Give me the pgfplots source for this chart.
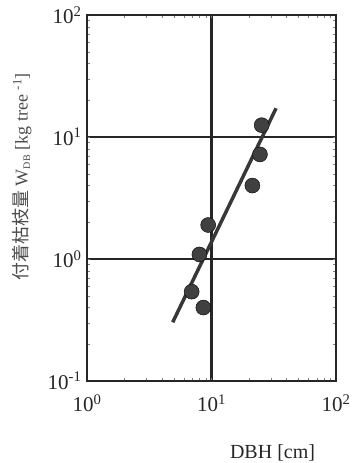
\documentclass[border=0pt]{standalone}
\usepackage{fontspec}
\setmainfont{Liberation Serif}
\newfontfamily\cjk{Noto Sans CJK JP}
\usepackage{pgfplots}
\pgfplotsset{compat=1.18}
\begin{document}
\begin{tikzpicture}
\begin{axis}[
  at={(0pt,0pt)}, anchor=south west,
  scale only axis, width=249pt, height=366pt,
  xmode=log, ymode=log,
  xmin=1, xmax=100, ymin=0.1, ymax=100,
  xtick={1,10,100}, ytick={0.1,1,10,100},
  xticklabels={10\textsuperscript{0},10\textsuperscript{1},10\textsuperscript{2}},
  yticklabels={10\textsuperscript{-1},10\textsuperscript{0},10\textsuperscript{1},10\textsuperscript{2}},
  minor xtick={}, minor ytick={},
  major tick length=0pt,
  xmajorgrids=true, ymajorgrids=true,
  grid style={line width=2.1pt, color=black!85},
  major grid style={line width=2.1pt, color=black!85},
  axis line style={line width=2pt, color=black!85},
  tick label style={font=\fontsize{21}{21}\selectfont, text=black!85},
  xticklabel style={yshift=-10pt},
  yticklabel style={xshift=-2pt},
  clip=false,
]
\addplot[line width=3.5pt, color=black!78] coordinates {(4.88,0.303) (33,17.2)};
\addplot[only marks, mark=*, mark size=7.5pt, mark options={fill=black!75, draw=none}] coordinates {
(25.3,12.5) (24.5,7.2) (21.3,4.0) (9.4,1.9) (8.0,1.09) (6.93,0.54) (8.6,0.40)
};
\node[anchor=east, font=\fontsize{20}{20}\selectfont, text=black!85] at (rel axis cs:0.93,-0.197) {DBH [cm]};
\node[rotate=90, font=\fontsize{18}{18}\selectfont, text=black!70] at (rel axis cs:-0.261,0.558) {{\cjk 付着枯枝量} W\textsubscript{\scalebox{0.8}{DB}} [kg tree \textsuperscript{-1}]};
\end{axis}
\pgfresetboundingbox
\useasboundingbox (-87pt,-82pt) rectangle (270pt,381pt);
\end{tikzpicture}
\end{document}
